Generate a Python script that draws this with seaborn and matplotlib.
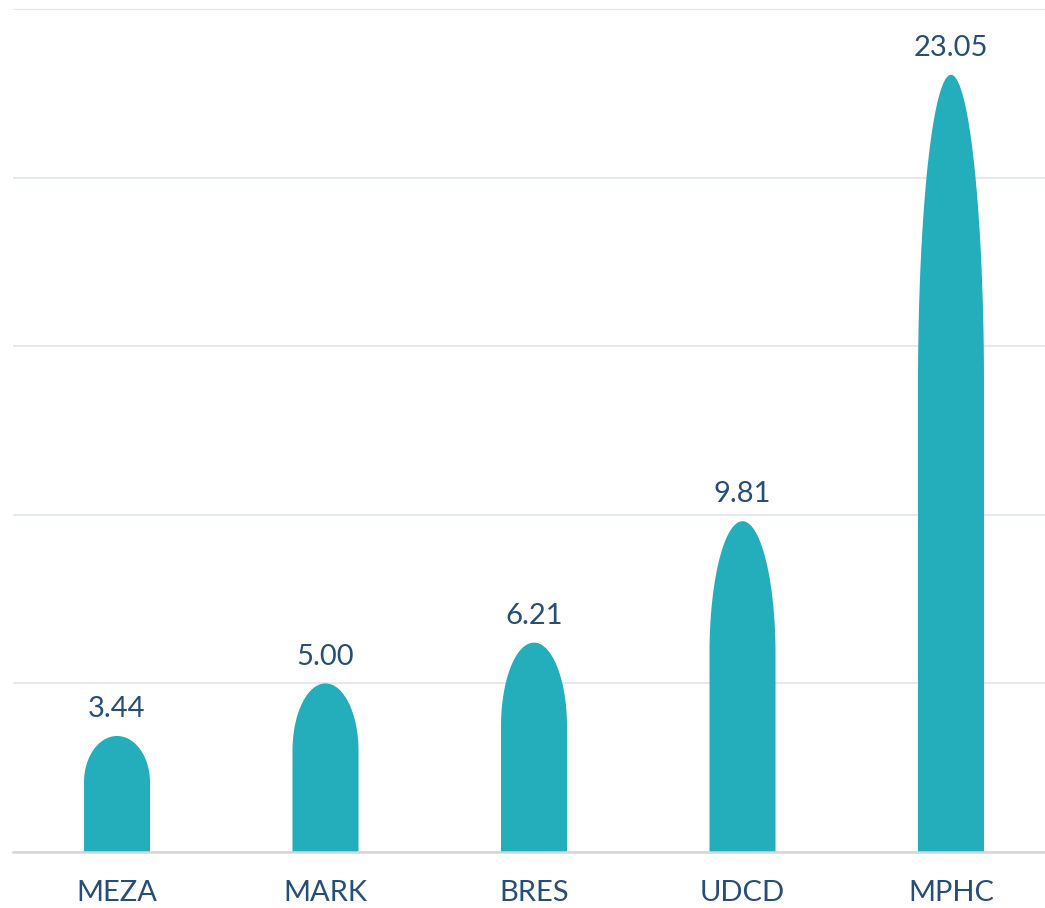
import numpy as np
import pandas as pd
import matplotlib
matplotlib.use("Agg")
import matplotlib.pyplot as plt
from matplotlib.patches import Polygon
import seaborn as sns

categories = ["MEZA", "MARK", "BRES", "UDCD", "MPHC"]
values = [3.44, 5.00, 6.21, 9.81, 23.05]
value_labels = ["3.44", "5.00", "6.21", "9.81", "23.05"]
y_ticks = [0, 5, 10, 15, 20, 25]

BAR_COLOR = "#24ADBA"
TEXT_COLOR = "#264F78"
GRID_COLOR = "#E0E6F1"
AXIS_COLOR = "#D6D6D6"

sns.set_theme(style="white")
plt.rcParams["font.family"] = ["Lato", "DejaVu Sans"]

df = pd.DataFrame({"cat": categories, "val": values})

W, H = 1045, 908
fig = plt.figure(figsize=(W / 100, H / 100), dpi=100)
left_px, right_px, top_px, bot_px = 12.75, 1055.25, 9, 852
ax = fig.add_axes([left_px / W, (H - bot_px) / H,
                   (right_px - left_px) / W, (bot_px - top_px) / H])

sns.barplot(data=df, x="cat", y="val", color=BAR_COLOR, width=0.3166,
            saturation=1, ax=ax, zorder=3)

# Reshape each bar into a bullet: straight sides then an elliptical dome (top 40%)
for p in list(ax.patches):
    x0, w, h = p.get_x(), p.get_width(), p.get_height()
    cx = x0 + w / 2
    dome_h = 0.4 * h
    base = h - dome_h
    t = np.linspace(np.pi, 0, 120)
    xs = cx + (w / 2) * np.cos(t)
    ys = base + dome_h * np.sin(t)
    pts = [(x0, 0)] + list(zip(xs, ys)) + [(x0 + w, 0)]
    poly = Polygon(pts, closed=True, facecolor=BAR_COLOR, edgecolor="none",
                   zorder=3, antialiased=True)
    ax.add_patch(poly)
    p.set_visible(False)

for i, (v, lab) in enumerate(zip(values, value_labels)):
    ax.annotate(lab, xy=(i, v), xytext=(0, 13.5), textcoords="offset points",
                ha="center", va="baseline", fontsize=21, color=TEXT_COLOR,
                zorder=4)

ax.set_ylim(0, 25)
ax.set_xlim(-0.5, len(categories) - 0.5)
ax.set_yticks(y_ticks)
ax.set_yticklabels([])
ax.tick_params(axis="y", length=0)
ax.tick_params(axis="x", length=0, pad=20, labelsize=21, labelcolor=TEXT_COLOR)
ax.set_xlabel("")
ax.set_ylabel("")
ax.grid(axis="y", color=GRID_COLOR, linewidth=1.3, zorder=0)
ax.set_axisbelow(True)
for s in ["left", "right", "top"]:
    ax.spines[s].set_visible(False)
ax.spines["bottom"].set_color(AXIS_COLOR)
ax.spines["bottom"].set_linewidth(1.8)
ax.spines["bottom"].set_zorder(5)

fig.savefig("out.png", dpi=100, facecolor="white")
